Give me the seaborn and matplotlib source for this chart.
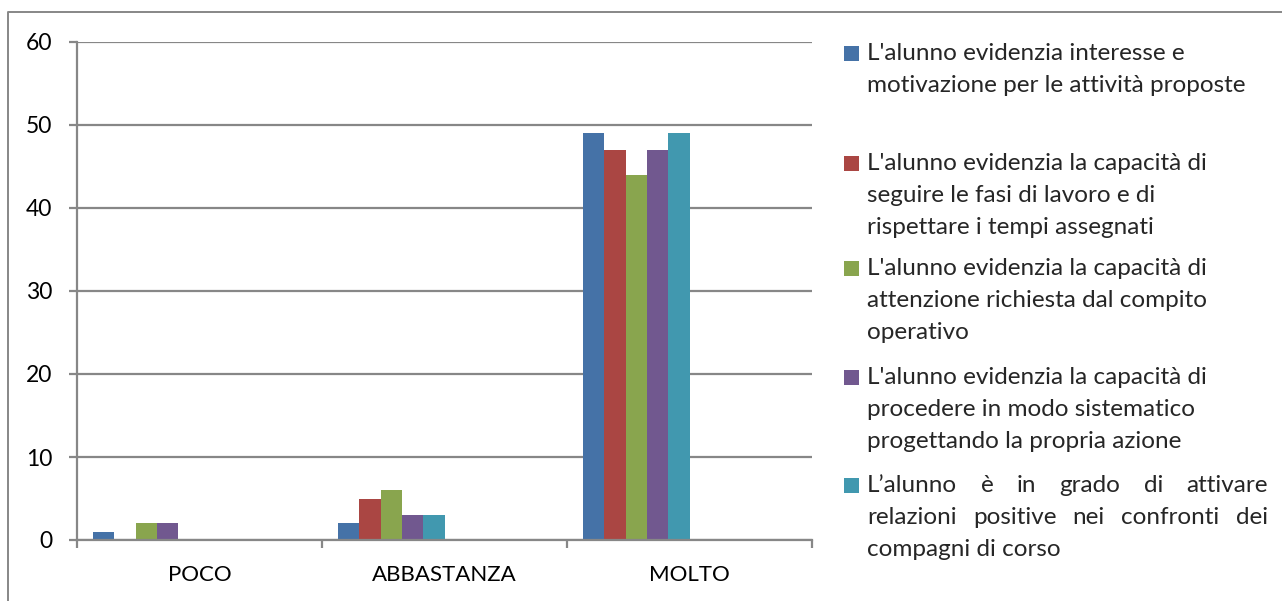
import pandas as pd
import seaborn as sns
import matplotlib.pyplot as plt
from matplotlib.lines import Line2D
from matplotlib.patches import Rectangle

# dati
categorie = ["POCO", "ABBASTANZA", "MOLTO"]
serie = [
    "L'alunno evidenzia interesse e motivazione per le attività proposte",
    "L'alunno evidenzia la capacità di seguire le fasi di lavoro e di rispettare i tempi assegnati",
    "L'alunno evidenzia la capacità di attenzione richiesta dal compito operativo",
    "L'alunno evidenzia la capacità di procedere in modo sistematico progettando la propria azione",
    "L\u2019alunno è in grado di attivare relazioni positive nei confronti dei compagni di corso",
]
valori_interesse = [1, 2, 49]
valori_fasi = [0, 5, 47]
valori_attenzione = [2, 6, 44]
valori_procedere = [2, 3, 47]
valori_relazioni = [0, 3, 49]

# righe della legenda come nell'originale (a capo manuale)
righe_legenda = [
    ["L'alunno evidenzia interesse e", "motivazione per le attività proposte"],
    ["L'alunno evidenzia la capacità di", "seguire le fasi di lavoro e di", "rispettare i tempi assegnati"],
    ["L'alunno evidenzia la capacità di", "attenzione richiesta dal compito", "operativo"],
    ["L'alunno evidenzia la capacità di", "procedere in modo sistematico", "progettando la propria azione"],
    ["L\u2019alunno è in grado di attivare", "relazioni positive nei confronti dei", "compagni di corso"],
]
giustificate = [False, False, False, False, True]

colori = ["#4572A7", "#AA4643", "#89A54E", "#71588F", "#4198AF"]

W, H = 1282, 601
GRIGIO = "#878787"
FS_LEG = 17.5

# excel lascia spazio per 10 serie: le ultime 5 sono vuote
vuote = [f"_vuota{i}" for i in range(5)]
ordine_hue = serie + vuote

valori = [valori_interesse, valori_fasi, valori_attenzione, valori_procedere, valori_relazioni]
rows = []
for nome, vals in zip(serie, valori):
    for cat, v in zip(categorie, vals):
        rows.append({"categoria": cat, "serie": nome, "valore": v})
df = pd.DataFrame(rows)

palette = dict(zip(serie, colori))
palette.update({v: "white" for v in vuote})

sns.set_theme(style="white")
plt.rcParams["font.family"] = ["Lato", "DejaVu Sans"]

fig = plt.figure(figsize=(W / 100, H / 100), dpi=100)
ax = fig.add_axes([77 / W, 1 - 540 / H, (812 - 77) / W, (540 - 42) / H])

sns.barplot(data=df, x="categoria", y="valore", hue="serie", order=categorie,
            hue_order=ordine_hue, palette=palette, width=10 / 11.5,
            linewidth=0, saturation=1, legend=False, ax=ax)

ax.set_xlim(-0.5, len(categorie) - 0.5)
ax.set_ylim(0, 60)
ax.set_yticks(range(0, 61, 10))
ax.set_xlabel("")
ax.set_ylabel("")
ax.set_axisbelow(True)
ax.yaxis.grid(True, color=GRIGIO, linewidth=1.6)

for lato in ["top", "right"]:
    ax.spines[lato].set_visible(False)
for lato in ["left", "bottom"]:
    ax.spines[lato].set_color(GRIGIO)
    ax.spines[lato].set_linewidth(1.6)

ax.tick_params(axis="y", length=6, width=1.6, color=GRIGIO, pad=12,
               labelsize=16.5, labelcolor="black", left=True)
ax.tick_params(axis="x", which="major", length=0, pad=18, labelsize=16,
               labelcolor="black")
ax.set_xticks([i - 0.5 for i in range(len(categorie) + 1)], minor=True)
ax.tick_params(axis="x", which="minor", length=6, width=1.6, color=GRIGIO,
               bottom=True)

# cornice esterna dell'area grafico
fig.add_artist(Line2D([8 / W, 8 / W, 1.01], [-0.01, 1 - 12 / H, 1 - 12 / H],
                      transform=fig.transFigure, color=GRIGIO, linewidth=1.4))

# legenda disegnata a mano, come in excel
def px(x, y):
    return x / W, 1 - y / H

y_voci = [53, 163, 268, 377, 485]
passo = 32.5
x_testo, x_destra = 867, 1268
renderer = fig.canvas.get_renderer()

for righe, y0, col, giust in zip(righe_legenda, y_voci, colori, giustificate):
    fig.add_artist(Rectangle(px(844, y0 + 7.5), 15 / W, 15 / H,
                             transform=fig.transFigure, color=col, linewidth=0))
    for k, riga in enumerate(righe):
        y = y0 + k * passo
        if giust and k < len(righe) - 1:
            parole = riga.split(" ")
            testi = [fig.text(0, 0, p, fontsize=FS_LEG, va="center") for p in parole]
            larghezze = [t.get_window_extent(renderer).width for t in testi]
            spazio = (x_destra - x_testo - sum(larghezze)) / (len(parole) - 1)
            x = x_testo
            for t, w in zip(testi, larghezze):
                t.set_position(px(x, y))
                x += w + spazio
        else:
            fig.text(*px(x_testo, y), riga, fontsize=FS_LEG, va="center")

fig.savefig("out.png", dpi=100)
